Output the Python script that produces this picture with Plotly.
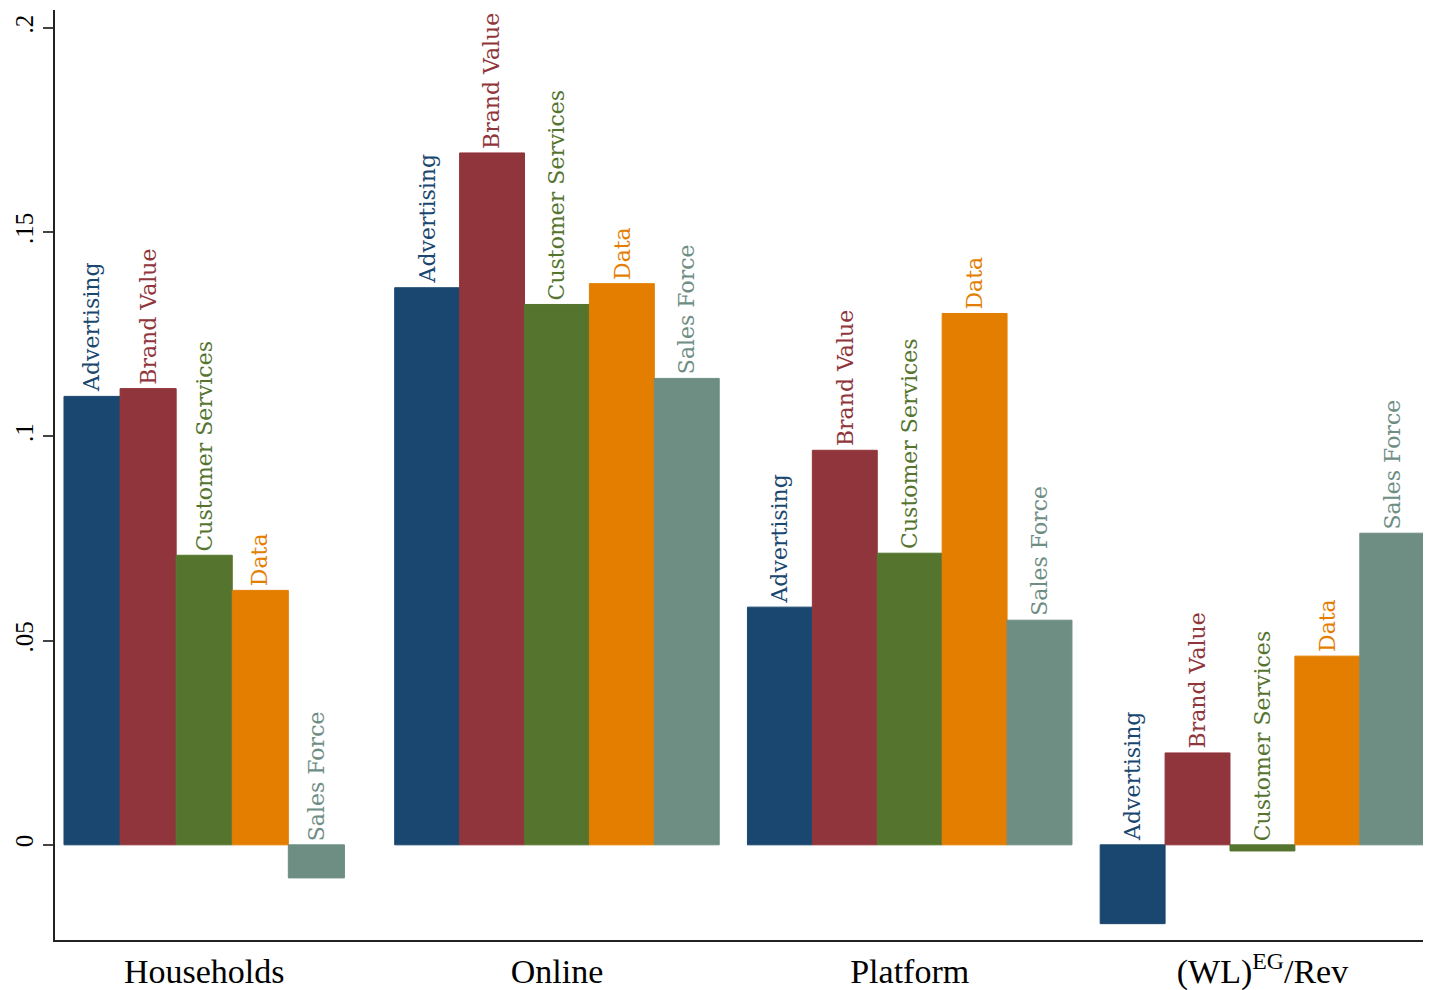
import plotly.graph_objects as go

groups = ["Households", "Online", "Platform", "(WL)<sup>EG</sup>/Rev"]
series = ["Advertising", "Brand Value", "Customer Services", "Data", "Sales Force"]
advertising = [0.1098, 0.1364, 0.0582, -0.0193]
brand_value = [0.1117, 0.1694, 0.0966, 0.0225]
customer_services = [0.0709, 0.1323, 0.0714, -0.0015]
data = [0.0623, 0.1374, 0.1301, 0.0462]
sales_force = [-0.0081, 0.1142, 0.0550, 0.0763]
values = [advertising, brand_value, customer_services, data, sales_force]
colors = ["#1a476f", "#90353b", "#55752f", "#e37e00", "#6e8e84"]
y_ticks = [0, 0.05, 0.1, 0.15, 0.2]
y_ticklabels = ["0", ".05", ".1", ".15", ".2"]

# layout constants (bar widths per group in category units)
group_w = [0.159, 0.184, 0.184, 0.184]

fig = go.Figure()
annotations = []
for k, (name, vals, col) in enumerate(zip(series, values, colors)):
    offs = [-2.5 * w + k * w for w in group_w]
    fig.add_trace(go.Bar(
        x=groups, y=vals, name=name,
        width=group_w, offset=offs,
        marker=dict(color=col, line=dict(color=col, width=1)),
        showlegend=False,
    ))
    for g, v in enumerate(vals):
        annotations.append(dict(
            x=g + offs[g] + group_w[g] / 2, y=max(v, 0), xref="x", yref="y",
            text=name, textangle=-90, showarrow=False,
            xanchor="center", yanchor="bottom", yshift=2,
            font=dict(family="DejaVu Serif", size=22, color=col),
        ))

fig.update_layout(
    width=1423, height=982,
    margin=dict(l=47, r=1, t=2, b=50),
    paper_bgcolor="white", plot_bgcolor="white",
    barmode="overlay",
    annotations=annotations,
    font=dict(family="Liberation Serif", color="black"),
)
fig.update_xaxes(
    type="category", range=[-0.423, 3.475], automargin=False,
    showline=True, linecolor="#222", linewidth=2,
    ticks="", showgrid=False, zeroline=False,
    tickfont=dict(family="Liberation Serif", size=34, color="black"),
)
fig.update_yaxes(
    range=[-0.0233, 0.2044], automargin=False,
    tickvals=y_ticks, ticktext=y_ticklabels, tickangle=-90,
    showline=True, linecolor="#222", linewidth=2,
    ticks="outside", ticklen=10, tickwidth=2, tickcolor="#444",
    showgrid=False, zeroline=False,
    tickfont=dict(family="Liberation Serif", size=25, color="black"),
)

fig.write_html("out.html")
